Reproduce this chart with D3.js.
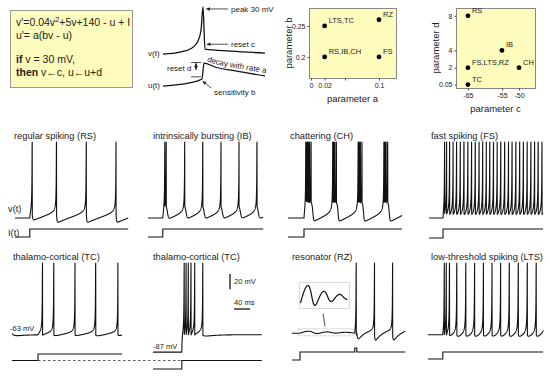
<!DOCTYPE html>
<html>
<head>
<meta charset="utf-8">
<script src="https://cdn.jsdelivr.net/npm/d3@7"></script>
<style>
body { margin: 0; background: #fff; }
svg text { font-family: "Liberation Sans", Arial, Helvetica, sans-serif; fill: #222; }
</style>
</head>
<body>
<script>
// model parameters per neuron type (these also feed the two parameter plots)
const neuronTypes = ['RS', 'IB', 'CH', 'FS', 'TC', 'RZ', 'LTS']
const paramA = [0.02, 0.02, 0.02, 0.1, 0.02, 0.1, 0.02]
const paramB = [0.2, 0.2, 0.2, 0.2, 0.25, 0.26, 0.25]
const paramC = [-65, -55, -50, -65, -65, -65, -65]
const paramD = [8, 4, 2, 2, 0.05, 2, 2]

// labels in the (a,b) and (c,d) plots
const abLabels = ['LTS,TC', 'RZ', 'RS,IB,CH', 'FS']
const abA = [0.02, 0.1, 0.02, 0.1]
const abB = [0.25, 0.26, 0.2, 0.2]
const cdLabels = ['RS', 'IB', 'CH', 'FS,LTS,RZ', 'TC']
const cdC = [-65, -55, -50, -65, -65]
const cdD = [8, 4, 2, 2, 0.05]
const aTicks = [0, 0.02, 0.05, 0.1]
const aTickText = ['0', '0.02', '', '0.1']
const bTicks = [0.2, 0.25]
const cTicks = [-65, -55, -50]
const dTicks = [0.05, 2, 4, 8]

// the eight recordings
const panelTitles = ['regular spiking (RS)', 'intrinsically bursting (IB)', 'chattering (CH)', 'fast spiking (FS)',
  'thalamo-cortical (TC)', 'thalamo-cortical (TC)', 'resonator (RZ)', 'low-threshold spiking (LTS)']
const panelType = ['RS', 'IB', 'CH', 'FS', 'TC', 'TC', 'RZ', 'LTS']
const startV = [-70, -70, -70, -70, -63, -87, -62.5, -64.4] // mV
const stepOn = [37, 37, 40, 35, 65, 72, 20, 37] // ms
const currentBefore = [0, 0, 0, 0, 0, -30, 0, 0]
const currentAfter = [6.2, 7.4, 8.5, 10, 1.06, 0, 0.2, 6.5]
const durations = [283, 288, 285, 285, 275, 272, 283, 288] // ms
const rzPulse = [157, 162, 6] // on, off, amplitude
const scaleBar = [20, 40] // mV, ms

// layout
const W = 550, H = 378
const pxPerMs = 0.4, pxPerMv = 0.76
const panelX = [15, 148, 288, 429, 12, 153, 292, 428]
const peakY = [142, 142, 142, 142, 263, 263, 263, 263]
const titleX = [14, 153, 290, 431, 13, 153, 292, 431]
const curLow = [237, 237, 237, 238, 360.5, 369, 360, 359]
const curHigh = [229, 229, 229, 229, 354, 360.5, 352, 352]
const dt = 0.25

const svg = d3.select('body').append('svg').attr('width', W).attr('height', H)
const defs = svg.append('defs')
defs.append('marker').attr('id', 'arr').attr('viewBox', '0 0 6 6')
  .attr('refX', 5.5).attr('refY', 3).attr('markerWidth', 5).attr('markerHeight', 5)
  .attr('orient', 'auto-start-reverse')
  .append('path').attr('d', 'M0,0.5 L6,3 L0,5.5 z').attr('fill', '#222')

// ---------- equation box ----------
const eq = svg.append('g')
eq.append('rect').attr('x', 10.5).attr('y', 10.5).attr('width', 122).attr('height', 77)
  .attr('fill', '#fdfcbc').attr('stroke', '#999')
const l1 = eq.append('text').attr('x', 16).attr('y', 26).attr('font-size', 10.5)
l1.append('tspan').text("v'=0.04v")
l1.append('tspan').attr('dy', -4).attr('font-size', 7.5).text('2')
l1.append('tspan').attr('dy', 4).text('+5v+140 - u + I')
eq.append('text').attr('x', 16).attr('y', 39).attr('font-size', 10.5).text("u'= a(bv - u)")
const l3 = eq.append('text').attr('x', 16).attr('y', 63).attr('font-size', 10.5)
l3.append('tspan').attr('font-weight', 'bold').text('if')
l3.append('tspan').text(' v = 30 mV,')
const l4 = eq.append('text').attr('x', 16).attr('y', 76).attr('font-size', 10.5)
l4.append('tspan').attr('font-weight', 'bold').text('then')
l4.append('tspan').text(' v\u2190c,   u\u2190u+d')

// ---------- sketch of one spike ----------
const sketchV = [[0, 4], [17, 8], [28, 16], [34, 29], [37.3, 53], [39.2, 100], [41.2, 14], [66, 10], [100, 6]]
const sketchU = [[0, 7], [26, 18], [38.2, 32], [40.2, 89], [51, 75], [71, 61], [100, 43]]
const skX = d3.scaleLinear().domain([0, 100]).range([163, 265])
const skV = d3.scaleLinear().domain([0, 100]).range([56, 7])
const skU = d3.scaleLinear().domain([0, 100]).range([88, 60])
const sk = svg.append('g')
sk.append('path').attr('d', d3.line().x(d => skX(d[0])).y(d => skV(d[1])).curve(d3.curveMonotoneX)(sketchV))
  .attr('fill', 'none').attr('stroke', '#111').attr('stroke-width', 1.3)
sk.append('path').attr('d', d3.line().x(d => skX(d[0])).y(d => skU(d[1])).curve(d3.curveMonotoneX)(sketchU))
  .attr('fill', 'none').attr('stroke', '#111').attr('stroke-width', 1.3)
sk.append('path').attr('id', 'decayPath')
  .attr('d', d3.line().x(d => skX(d[0])).y(d => skU(d[1]) - 3).curve(d3.curveMonotoneX)(sketchU.slice(3)))
  .attr('fill', 'none')
sk.append('text').attr('font-size', 8).append('textPath').attr('href', '#decayPath')
  .attr('startOffset', 3).text('decay with  rate  a')
sk.append('text').attr('x', 148).attr('y', 56).attr('font-size', 8).text('v(t)')
sk.append('text').attr('x', 148).attr('y', 88).attr('font-size', 8).text('u(t)')
const arrow = (x1, y1, x2, y2) => sk.append('line').attr('x1', x1).attr('y1', y1).attr('x2', x2).attr('y2', y2)
  .attr('stroke', '#222').attr('stroke-width', 0.8).attr('marker-end', 'url(#arr)')
arrow(228, skV(96), skX(40.5) + 2, skV(96))
sk.append('text').attr('x', 231).attr('y', skV(96) + 3).attr('font-size', 8).text('peak 30 mV')
arrow(228, skV(24), skX(42) + 1, skV(24))
sk.append('text').attr('x', 231).attr('y', skV(24) + 3).attr('font-size', 8).text('reset  c')
sk.append('line').attr('x1', 191).attr('x2', 201).attr('y1', skU(91)).attr('y2', skU(91)).attr('stroke', '#222').attr('stroke-width', 0.8)
sk.append('line').attr('x1', 191).attr('x2', 201).attr('y1', skU(40)).attr('y2', skU(40)).attr('stroke', '#222').attr('stroke-width', 0.8)
arrow(196, skU(65), 196, skU(89)).attr('marker-start', 'url(#arr)')
sk.append('text').attr('x', 167).attr('y', skU(60)).attr('font-size', 8).text('reset  d')
arrow(211, 88, skX(39), skU(24))
sk.append('text').attr('x', 214).attr('y', 95).attr('font-size', 8).text('sensitivity  b')

// ---------- parameter plots ----------
const paramPlot = (g, cfg) => {
  const { x, y, xTicks, yTicks, xFmt, yFmt, xs, ys, labels, xTitle, yTitle } = cfg
  const [x0, x1] = x.range(), [y1, y0] = y.range()
  g.append('rect').attr('x', x0 + 0.5).attr('y', y0 + 0.5).attr('width', x1 - x0).attr('height', y1 - y0)
    .attr('fill', '#fdfcbc').attr('stroke', '#888')
  const ax = g.append('g').attr('transform', `translate(0,${y1 + 0.5})`)
    .call(d3.axisBottom(x).tickValues(xTicks).tickFormat(xFmt).tickSize(2).tickPadding(3))
  const ay = g.append('g').attr('transform', `translate(${x0 + 0.5},0)`)
    .call(d3.axisLeft(y).tickValues(yTicks).tickFormat(yFmt).tickSize(2).tickPadding(2))
  ;[ax, ay].forEach(a => {
    a.select('.domain').remove()
    a.selectAll('text').attr('font-size', 7).attr('fill', '#333').style('font-family', '"Liberation Sans", Arial, sans-serif')
    a.selectAll('line').attr('stroke', '#444')
  })
  g.selectAll('circle.pt').data(xs).join('circle').attr('class', 'pt')
    .attr('cx', (d, i) => x(d)).attr('cy', (d, i) => y(ys[i])).attr('r', 2.4).attr('fill', '#000')
  g.selectAll('text.lab').data(labels).join('text').attr('class', 'lab')
    .attr('x', (d, i) => x(xs[i]) + 4).attr('y', (d, i) => y(ys[i]) - 3).attr('font-size', 7.5).text(d => d)
  g.append('text').attr('x', (x0 + x1) / 2).attr('y', y1 + 24).attr('text-anchor', 'middle')
    .attr('font-size', 9.5).text(xTitle)
  g.append('text').attr('transform', `translate(${x0 - 17},${(y0 + y1) / 2}) rotate(-90)`)
    .attr('text-anchor', 'middle').attr('font-size', 9.5).text(yTitle)
}

paramPlot(svg.append('g'), {
  x: d3.scaleLinear().domain([-0.003, 0.125]).range([309, 396]),
  y: d3.scaleLinear().domain([0.166, 0.279]).range([78, 8]),
  xTicks: aTicks, yTicks: bTicks,
  xFmt: (d, i) => aTickText[i], yFmt: d => String(d),
  xs: abA, ys: abB, labels: abLabels, xTitle: 'parameter a', yTitle: 'parameter b'
})
paramPlot(svg.append('g'), {
  x: d3.scaleLinear().domain([-68.5, -45.3]).range([456, 535]),
  y: d3.scaleLinear().domain([-0.35, 8.9]).range([88, 8]),
  xTicks: cTicks, yTicks: dTicks,
  xFmt: d => String(d), yFmt: d => String(d),
  xs: cdC, ys: cdD, labels: cdLabels, xTitle: 'parameter c', yTitle: 'parameter d'
})

// ---------- simulated recordings ----------
const currentAt = (k, t) => {
  let I = t >= stepOn[k] ? currentAfter[k] : currentBefore[k]
  if (panelType[k] === 'RZ' && t >= rzPulse[0] && t < rzPulse[1]) I += rzPulse[2]
  return I
}

const simulate = k => {
  const j = neuronTypes.indexOf(panelType[k])
  const a = paramA[j], b = paramB[j], c = paramC[j], d = paramD[j]
  let v = startV[k], u = b * v
  const out = []
  for (let t = 0; t <= durations[k]; t += dt) {
    if (v >= 30) { out.push([t, 30]); v = c; u += d } else out.push([t, v])
    const I = currentAt(k, t)
    v += dt * (0.04 * v * v + 5 * v + 140 - u + I)
    u += dt * a * (b * v - u)
  }
  return out
}

const traces = panelTitles.map((_, k) => simulate(k))

panelTitles.forEach((title, k) => {
  const g = svg.append('g')
  const x = d3.scaleLinear().domain([0, durations[k]]).range([panelX[k], panelX[k] + durations[k] * pxPerMs])
  const y = d3.scaleLinear().domain([-90, 30]).range([peakY[k] + 120 * pxPerMv, peakY[k]])
  g.append('text').attr('x', titleX[k]).attr('y', peakY[k] - 3.5).attr('font-size', 9.3).text(title)
  g.append('path').attr('d', d3.line().x(d => x(d[0])).y(d => y(d[1]))(traces[k]))
    .attr('fill', 'none').attr('stroke', '#111').attr('stroke-width', 1.1).attr('stroke-linejoin', 'round')

  // input current
  const lv = [currentBefore[k], currentAfter[k]]
  const cd = panelType[k] === 'RZ' ? [lv[0], lv[1], lv[1] + rzPulse[2]] : lv
  const cr = panelType[k] === 'RZ' ? [curLow[k], curHigh[k], curHigh[k] - 4] : [curLow[k], curHigh[k]]
  const yc = d3.scaleLinear().domain(cd).range(cr)
  const times = d3.range(0, durations[k] + dt, dt)
  g.append('path').attr('d', d3.line().x(t => x(t)).y(t => yc(currentAt(k, t))).curve(d3.curveStepAfter)(times))
    .attr('fill', 'none').attr('stroke', '#111').attr('stroke-width', 1.1)
  if (k === 0) {
    g.append('text').attr('x', 8).attr('y', 212).attr('font-size', 9.3).text('v(t)')
    g.append('text').attr('x', 8).attr('y', curLow[k] - 1.5).attr('font-size', 9.3).text('I(t)')
  }
  if (k === 4 || k === 5) {
    g.append('text').attr('x', panelX[k] - 2 + (k === 5 ? 2 : 0)).attr('y', y(startV[k]) - 3)
      .attr('font-size', 7.5).text(`${startV[k]} mV`)
  }
  if (panelType[k] === 'RZ') {
    // magnified subthreshold oscillation
    const seg = traces[k].filter(d => d[0] >= stepOn[k] && d[0] <= rzPulse[0])
    const bx = [299.5, 349.5], by = [282.5, 308.5]
    const xi = d3.scaleLinear().domain(d3.extent(seg, d => d[0])).range([bx[0] + 1, bx[1] - 2])
    const yi = d3.scaleLinear().domain(d3.extent(seg, d => d[1])).range([by[1] - 3, by[0] + 3])
    g.append('rect').attr('x', bx[0]).attr('y', by[0]).attr('width', bx[1] - bx[0]).attr('height', by[1] - by[0])
      .attr('fill', 'none').attr('stroke', '#999').attr('stroke-width', 0.7).attr('stroke-dasharray', '1,1')
    g.append('path').attr('d', d3.line().x(d => xi(d[0])).y(d => yi(d[1])).curve(d3.curveBasis)(seg))
      .attr('fill', 'none').attr('stroke', '#111').attr('stroke-width', 1.2)
    const y0 = y(startV[k])
    g.append('rect').attr('x', x(stepOn[k]) - 1.5).attr('y', y0 - 4.5).attr('width', x(rzPulse[0]) - x(stepOn[k]))
      .attr('height', 7).attr('fill', 'none').attr('stroke', '#999').attr('stroke-width', 0.7).attr('stroke-dasharray', '1,1')
    g.append('line').attr('x1', 325).attr('y1', y0 - 7).attr('x2', 323).attr('y2', by[1] + 5)
      .attr('stroke', '#222').attr('stroke-width', 0.8)
  }
  if (k === 5) {
    // scale bars
    const bxp = 230, byp = 274
    g.append('line').attr('x1', bxp).attr('x2', bxp).attr('y1', byp).attr('y2', byp + scaleBar[0] * pxPerMv)
      .attr('stroke', '#111').attr('stroke-width', 1.3)
    g.append('text').attr('x', bxp + 4).attr('y', byp + 10).attr('font-size', 7.5).text(`${scaleBar[0]} mV`)
    g.append('line').attr('x1', bxp + 4).attr('x2', bxp + 4 + scaleBar[1] * pxPerMs).attr('y1', 309).attr('y2', 309)
      .attr('stroke', '#111').attr('stroke-width', 1.3)
    g.append('text').attr('x', bxp + 4).attr('y', 305).attr('font-size', 7.5).text(`${scaleBar[1]} ms`)
  }
})

// zero-current reference shared by the two TC panels
const zx0 = panelX[4] + stepOn[4] * pxPerMs, zx1 = panelX[5] + stepOn[5] * pxPerMs
svg.append('line').attr('x1', zx0).attr('x2', zx1).attr('y1', 360.5).attr('y2', 360.5)
  .attr('stroke', '#333').attr('stroke-width', 0.8).attr('stroke-dasharray', '2.5,2.5')
</script>
</body>
</html>
